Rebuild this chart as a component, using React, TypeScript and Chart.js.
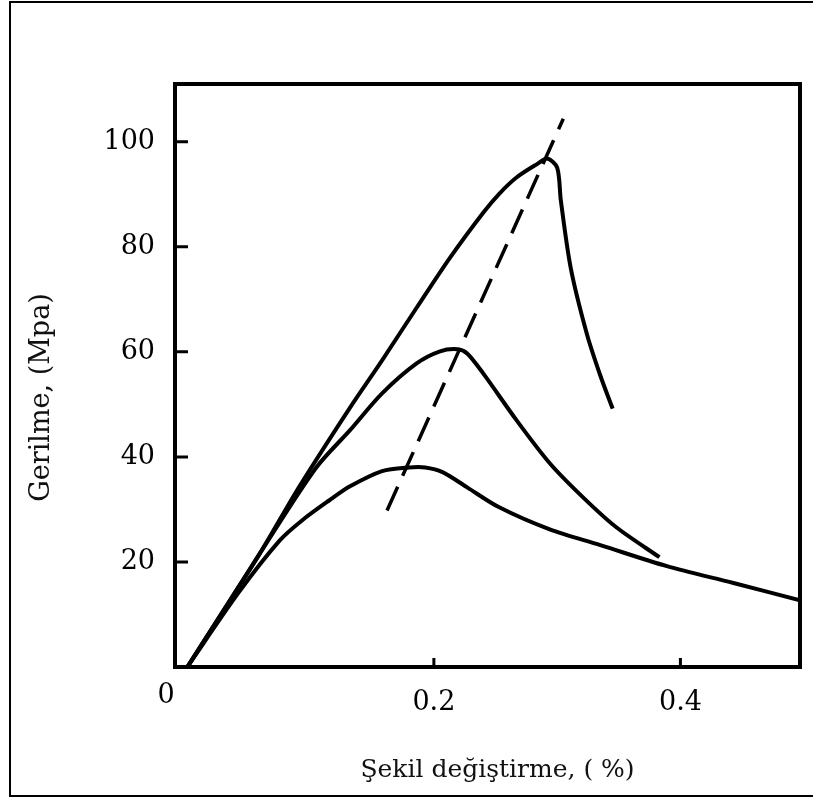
import React, { useEffect, useRef } from "react";
import { Chart, registerables } from "chart.js";

Chart.register(...registerables);

// Axis ticks and labels
const xTickValues = [0.2, 0.4];
const yTickValues = [20, 40, 60, 80, 100];
const originLabel = "0";
const xTitle = "Şekil değiştirme, ( %)";
const yTitle = "Gerilme, (Mpa)";

// Curve with peak ~97 MPa
const highX = [0, 0.058, 0.091, 0.132, 0.158, 0.186, 0.213, 0.24, 0.253, 0.267, 0.284, 0.292, 0.3, 0.303, 0.311, 0.324, 0.335, 0.345];
const highY = [0, 21.3, 34.4, 49.4, 58.4, 68.4, 77.9, 86.5, 90.1, 93.2, 95.8, 96.8, 95.1, 88.8, 76.0, 63.5, 55.5, 49.2];

// Curve with peak ~60 MPa
const midX = [0, 0.058, 0.104, 0.132, 0.158, 0.186, 0.205, 0.219, 0.227, 0.24, 0.267, 0.294, 0.321, 0.348, 0.383];
const midY = [0, 21.3, 37.8, 45.1, 52.1, 57.8, 60.1, 60.5, 59.7, 55.9, 47.0, 38.8, 32.3, 26.6, 20.9];

// Curve with peak ~38 MPa
const lowX = [0, 0.042, 0.075, 0.093, 0.115, 0.132, 0.158, 0.18, 0.193, 0.207, 0.227, 0.253, 0.294, 0.335, 0.389, 0.443, 0.497];
const lowY = [0, 14.3, 24.1, 27.9, 31.7, 34.4, 37.3, 38.0, 38.0, 37.1, 34.2, 30.4, 26.2, 23.2, 19.2, 16.0, 12.7];

// Dashed peak line
const peakLineX = [0.162, 0.305];
const peakLineY = [29.8, 104.4];

const toPoints = (xs: number[], ys: number[]) => xs.map((x, i) => ({ x, y: ys[i] }));

const FONT = '"DejaVu Serif", serif';

const framePlugin = {
  id: "frame",
  afterDraw(chart: any) {
    const { ctx, chartArea, scales } = chart;
    const { left, top, right, bottom } = chartArea;
    const xs = scales.x;
    const ys = scales.y;
    ctx.save();
    ctx.strokeStyle = "#000";
    ctx.lineWidth = 4;
    ctx.strokeRect(left, top, right - left, bottom - top);
    ctx.lineWidth = 3;
    ctx.beginPath();
    yTickValues.forEach((v) => {
      const py = ys.getPixelForValue(v);
      ctx.moveTo(left, py);
      ctx.lineTo(left + 13, py);
    });
    xTickValues.forEach((v) => {
      const px = xs.getPixelForValue(v);
      ctx.moveTo(px, bottom);
      ctx.lineTo(px, bottom - 9);
    });
    ctx.stroke();

    ctx.fillStyle = "#000";
    ctx.textAlign = "center";
    ctx.textBaseline = "middle";
    ctx.font = `27px ${FONT}`;
    ctx.fillText(originLabel, left - 9, bottom + 29);

    ctx.fillStyle = "#111";
    ctx.font = `25px ${FONT}`;
    ctx.fillText(xTitle, (left + right) / 2 + 10, bottom + 103);

    ctx.font = `27px ${FONT}`;
    ctx.translate(left - 133, (top + bottom) / 2 + 22);
    ctx.rotate(-Math.PI / 2);
    ctx.fillText(yTitle, 0, 0);
    ctx.restore();
  },
};

export default function App() {
  const canvasRef = useRef<HTMLCanvasElement | null>(null);

  useEffect(() => {
    const canvas = canvasRef.current;
    if (!canvas) return;
    const solid = {
      borderColor: "#000",
      borderWidth: 4,
      pointRadius: 0,
      fill: false,
      tension: 0.3,
    };
    const chart = new Chart(canvas, {
      type: "line",
      data: {
        datasets: [
          { ...solid, label: "high", data: toPoints(highX, highY) },
          { ...solid, label: "mid", data: toPoints(midX, midY) },
          { ...solid, label: "low", data: toPoints(lowX, lowY) },
          {
            label: "peak",
            data: toPoints(peakLineX, peakLineY),
            borderColor: "#000",
            borderWidth: 3.5,
            borderDash: [26, 12],
            pointRadius: 0,
            fill: false,
          },
        ],
      },
      options: {
        responsive: false,
        animation: false,
        devicePixelRatio: 1,
        layout: { padding: { top: 84, right: 13, left: 0, bottom: 0 } },
        plugins: { legend: { display: false }, tooltip: { enabled: false } },
        scales: {
          x: {
            type: "linear",
            min: -0.01,
            max: 0.497,
            grid: { display: false, drawTicks: false },
            border: { display: false },
            afterBuildTicks: (s: any) => {
              s.ticks = xTickValues.map((v) => ({ value: v }));
            },
            afterFit: (s: any) => {
              s.height = 131;
            },
            ticks: {
              color: "#000",
              padding: 20,
              font: { family: "DejaVu Serif", size: 27 },
              callback: (v: any) => String(v),
            },
          },
          y: {
            type: "linear",
            min: 0,
            max: 111,
            grid: { display: false, drawTicks: false },
            border: { display: false },
            afterBuildTicks: (s: any) => {
              s.ticks = yTickValues.map((v) => ({ value: v }));
            },
            afterFit: (s: any) => {
              s.width = 175;
            },
            ticks: {
              color: "#000",
              padding: 20,
              font: { family: "DejaVu Serif", size: 27 },
              callback: (v: any) => String(v),
            },
          },
        },
      },
      plugins: [framePlugin],
    });
    return () => chart.destroy();
  }, []);

  return (
    <div
      style={{
        position: "fixed",
        left: 0,
        top: 0,
        width: 813,
        height: 798,
        overflow: "hidden",
        background: "#fff",
      }}
    >
      <div
        style={{
          position: "absolute",
          left: 9,
          top: 1,
          width: 900,
          height: 792,
          borderLeft: "2px solid #000",
          borderTop: "2px solid #000",
          borderBottom: "2px solid #000",
        }}
      />
      <canvas
        ref={canvasRef}
        width={813}
        height={798}
        style={{ position: "absolute", left: 0, top: 0, width: 813, height: 798 }}
      />
    </div>
  );
}
